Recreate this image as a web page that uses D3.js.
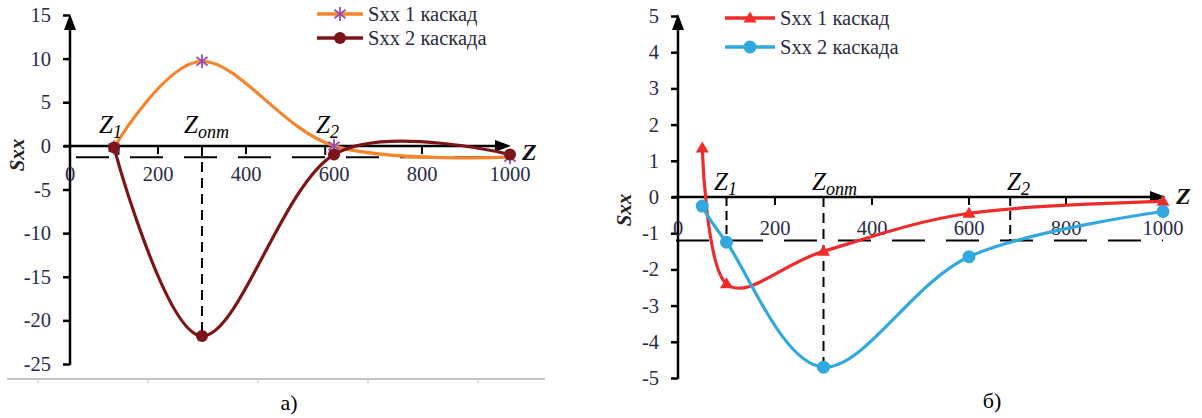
<!DOCTYPE html>
<html>
<head>
<meta charset="utf-8">
<script src="https://cdn.jsdelivr.net/npm/d3@7"></script>
<style>
  html, body { margin: 0; padding: 0; background: #fff; }
  svg { display: block; }
  text { font-family: "Liberation Serif", "Times New Roman", serif; }
</style>
</head>
<body>
<svg id="chart" width="1202" height="418"></svg>
<script>
// ---- data ----
// panel a)
const zA = [100, 300, 600, 1000];
const sxx1A = [-0.2, 9.7, 0, -1.3];
const sxx2A = [-0.2, -21.8, -1.0, -1.0];
const yTicksA = [15, 10, 5, 0, -5, -10, -15, -20, -25];
// panel б)
const zB = [50, 100, 300, 600, 1000];
const sxx1B = [1.35, -2.4, -1.5, -0.45, -0.12];
const sxx2B = [-0.25, -1.25, -4.7, -1.65, -0.4];
const yTicksB = [5, 4, 3, 2, 1, 0, -1, -2, -3, -4, -5];
// shared
const zTicks = [0, 200, 400, 600, 800, 1000];
const seriesNames = ["Sxx 1 каскад", "Sxx 2 каскада"];
// marked z positions: Z1, Zопт, Z2 and the threshold level
const marksA = { z1: 110, zopt: 300, z2: 580, level: -1.3 };
const marksB = { z1: 100, zopt: 300, z2: 685, level: -1.2 };

const svg = d3.select("#chart");
const tickColor = "#2b2b48";
const serif = "'Liberation Serif', 'Times New Roman', serif";

function panel(cfg) {
  const g = svg.append("g");
  const x = d3.scaleLinear().domain([0, 1000]).range(cfg.xRange);
  const y = d3.scaleLinear().domain(cfg.yDomain).range(cfg.yRange);
  const y0 = y(0);

  // dashed guide lines
  g.append("line")
    .attr("x1", cfg.dashStart).attr("x2", x(cfg.dashEnd))
    .attr("y1", y(cfg.marks.level)).attr("y2", y(cfg.marks.level))
    .attr("stroke", "#000").attr("stroke-width", 2)
    .attr("stroke-dasharray", "33,21");
  [cfg.marks.z1, cfg.marks.z2].forEach(z => {
    g.append("line")
      .attr("x1", x(z)).attr("x2", x(z))
      .attr("y1", y0).attr("y2", y(cfg.marks.level))
      .attr("stroke", "#000").attr("stroke-width", 2)
      .attr("stroke-dasharray", "9,5");
  });
  g.append("line")
    .attr("x1", x(cfg.marks.zopt)).attr("x2", x(cfg.marks.zopt))
    .attr("y1", y0).attr("y2", y(cfg.optBottom))
    .attr("stroke", "#000").attr("stroke-width", 2)
    .attr("stroke-dasharray", "10,6");

  // y axis with ticks
  const yAxis = d3.axisLeft(y).tickValues(cfg.yTicks).tickSize(7).tickPadding(12)
    .tickFormat(d => String(d));
  const ya = g.append("g").attr("transform", `translate(${x(0)},0)`).call(yAxis);
  ya.attr("font-family", null).attr("font-size", null);
  ya.select(".domain").remove();
  ya.selectAll(".tick line").attr("stroke", "#000").attr("stroke-width", 2.5);
  ya.selectAll(".tick text")
    .attr("fill", tickColor).style("font-size", "20.5px")
    .style("font-family", serif);
  g.append("line")
    .attr("x1", x(0)).attr("x2", x(0))
    .attr("y1", y(cfg.yDomain[0]) + 1).attr("y2", cfg.yTop + 8)
    .attr("stroke", "#000").attr("stroke-width", 2.5);
  g.append("path")
    .attr("d", `M${x(0)},${cfg.yTop} L${x(0) - 6},${cfg.yTop + 16} L${x(0) + 6},${cfg.yTop + 16} Z`)
    .attr("fill", "#000");

  // z axis
  g.append("line")
    .attr("x1", x(0) - 6).attr("x2", cfg.zTip - 8)
    .attr("y1", y0).attr("y2", y0)
    .attr("stroke", "#000").attr("stroke-width", 2.5);
  g.append("path")
    .attr("d", `M${cfg.zTip},${y0} L${cfg.zTip - 16},${y0 - 6} L${cfg.zTip - 16},${y0 + 6} Z`)
    .attr("fill", "#000");
  g.selectAll(".ztick").data(zTicks.filter(d => d > 0 && d < 1000)).enter()
    .append("line")
    .attr("x1", d => x(d)).attr("x2", d => x(d))
    .attr("y1", y0).attr("y2", y0 + 8)
    .attr("stroke", "#000").attr("stroke-width", 2);
  g.selectAll(".zlab").data(zTicks).enter().append("text")
    .attr("x", d => x(d)).attr("y", cfg.zLabelY)
    .attr("text-anchor", "middle").attr("dominant-baseline", "central")
    .style("font-size", "20.5px").style("font-family", serif).attr("fill", tickColor)
    .text(d => d);

  // series curves
  const line = d3.line().curve(d3.curveCardinal.tension(0));
  cfg.series.forEach(s => {
    const pts = cfg.z.map((z, i) => [x(z), y(s.values[i])]);
    g.append("path").attr("d", line(pts))
      .attr("fill", "none").attr("stroke", s.color).attr("stroke-width", 3.2)
      .attr("stroke-linejoin", "round").attr("stroke-linecap", "round");
  });
  cfg.series.forEach(s => {
    cfg.z.forEach((z, i) => drawMarker(g, s, x(z), y(s.values[i])));
  });

  // axis titles
  g.append("text")
    .attr("transform", `translate(${cfg.sxxPos[0]},${cfg.sxxPos[1]}) rotate(-90)`)
    .attr("text-anchor", "middle").attr("dominant-baseline", "central")
    .style("font-size", "21px").style("font-family", serif)
    .attr("font-weight", "bold").attr("font-style", "italic")
    .attr("fill", "#222").text("Sxx");
  g.append("text")
    .attr("x", cfg.zTitle[0]).attr("y", cfg.zTitle[1])
    .style("font-size", "24px").style("font-family", serif)
    .attr("font-weight", "bold").attr("font-style", "italic")
    .attr("fill", "#111").text("Z");

  // Z labels
  cfg.zLabels.forEach(l => {
    const t = g.append("text").attr("x", l.x).attr("y", l.y)
      .style("font-size", "25px").style("font-family", serif)
      .attr("font-style", "italic").attr("fill", "#000");
    t.append("tspan").text("Z");
    t.append("tspan").style("font-size", "18px").attr("dy", 5).text(l.sub);
  });

  // legend
  cfg.series.forEach((s, i) => {
    const ly = cfg.legend.y + i * cfg.legend.dy;
    g.append("line")
      .attr("x1", cfg.legend.x).attr("x2", cfg.legend.x + cfg.legend.w)
      .attr("y1", ly).attr("y2", ly)
      .attr("stroke", s.color).attr("stroke-width", 3.5);
    drawMarker(g, s, cfg.legend.x + cfg.legend.w / 2, ly);
    g.append("text")
      .attr("x", cfg.legend.x + cfg.legend.w + 5).attr("y", ly + 7)
      .style("font-size", "20.5px").style("font-family", serif).attr("fill", "#2b2b40")
      .text(seriesNames[i]);
  });

  // caption
  g.append("text").attr("x", cfg.caption[0]).attr("y", cfg.caption[1])
    .attr("text-anchor", "middle")
    .style("font-size", "22px").style("font-family", serif).attr("fill", "#000")
    .text(cfg.caption[2]);
  return g;
}

function drawMarker(g, s, cx, cy) {
  if (s.marker === "circle") {
    g.append("circle").attr("cx", cx).attr("cy", cy).attr("r", s.r)
      .attr("fill", s.color);
  } else if (s.marker === "triangle") {
    const h = 11, w = 6.5;
    g.append("path")
      .attr("d", `M${cx},${cy - h * 0.6} L${cx + w},${cy + h * 0.4} L${cx - w},${cy + h * 0.4} Z`)
      .attr("fill", s.color);
  } else if (s.marker === "star") {
    const r = 7;
    const path = `M${cx},${cy - r} L${cx},${cy + r}` +
      `M${cx - r * 0.8},${cy - r * 0.6} L${cx + r * 0.8},${cy + r * 0.6}` +
      `M${cx - r * 0.8},${cy + r * 0.6} L${cx + r * 0.8},${cy - r * 0.6}`;
    g.append("path").attr("d", path).attr("stroke", s.markerColor)
      .attr("stroke-width", 1.8).attr("fill", "none");
  }
}

// faint base line under panel a)
const baseX = d3.scaleLinear().domain([0, 5]).range([38, 588]);
svg.append("line").attr("x1", 7).attr("x2", 545).attr("y1", 379).attr("y2", 379)
  .attr("stroke", "#c4c4c4").attr("stroke-width", 2);
svg.selectAll(".basetick").data(d3.range(5)).enter().append("line")
  .attr("x1", d => baseX(d)).attr("x2", d => baseX(d))
  .attr("y1", 379).attr("y2", 383)
  .attr("stroke", "#d0d0d0").attr("stroke-width", 1.5);

panel({
  xRange: [70, 510], yDomain: [-25, 15], yRange: [364, 15], yTicks: yTicksA,
  yTop: 14, zTip: 511, zLabelY: 174,
  dashStart: 76, dashEnd: 1000, marks: marksA, optBottom: -21.8,
  z: zA,
  series: [
    { values: sxx1A, color: "#f5842c", marker: "star", markerColor: "#9b4fb0" },
    { values: sxx2A, color: "#7c1517", marker: "circle", r: 6 }
  ],
  sxxPos: [17, 155], zTitle: [522, 160],
  zLabels: [{ x: 99, y: 133, sub: "1" }, { x: 184, y: 133, sub: "опт" }, { x: 316, y: 133, sub: "2" }],
  legend: { x: 317, y: 14, dy: 24, w: 46 },
  caption: [289, 410, "а)"]
});

panel({
  xRange: [678, 1163], yDomain: [-5, 5], yRange: [378, 16], yTicks: yTicksB,
  yTop: 14, zTip: 1166, zLabelY: 228,
  dashStart: 676, dashEnd: 1000, marks: marksB, optBottom: -4.75,
  z: zB,
  series: [
    { values: sxx1B, color: "#ef2b2b", marker: "triangle" },
    { values: sxx2B, color: "#31a8de", marker: "circle", r: 6.5 }
  ],
  sxxPos: [624, 210], zTitle: [1176, 204],
  zLabels: [{ x: 714, y: 190, sub: "1" }, { x: 812, y: 190, sub: "опт" }, { x: 1007, y: 190, sub: "2" }],
  legend: { x: 725, y: 18, dy: 29, w: 50 },
  caption: [992, 408, "б)"]
});
</script>
</body>
</html>
